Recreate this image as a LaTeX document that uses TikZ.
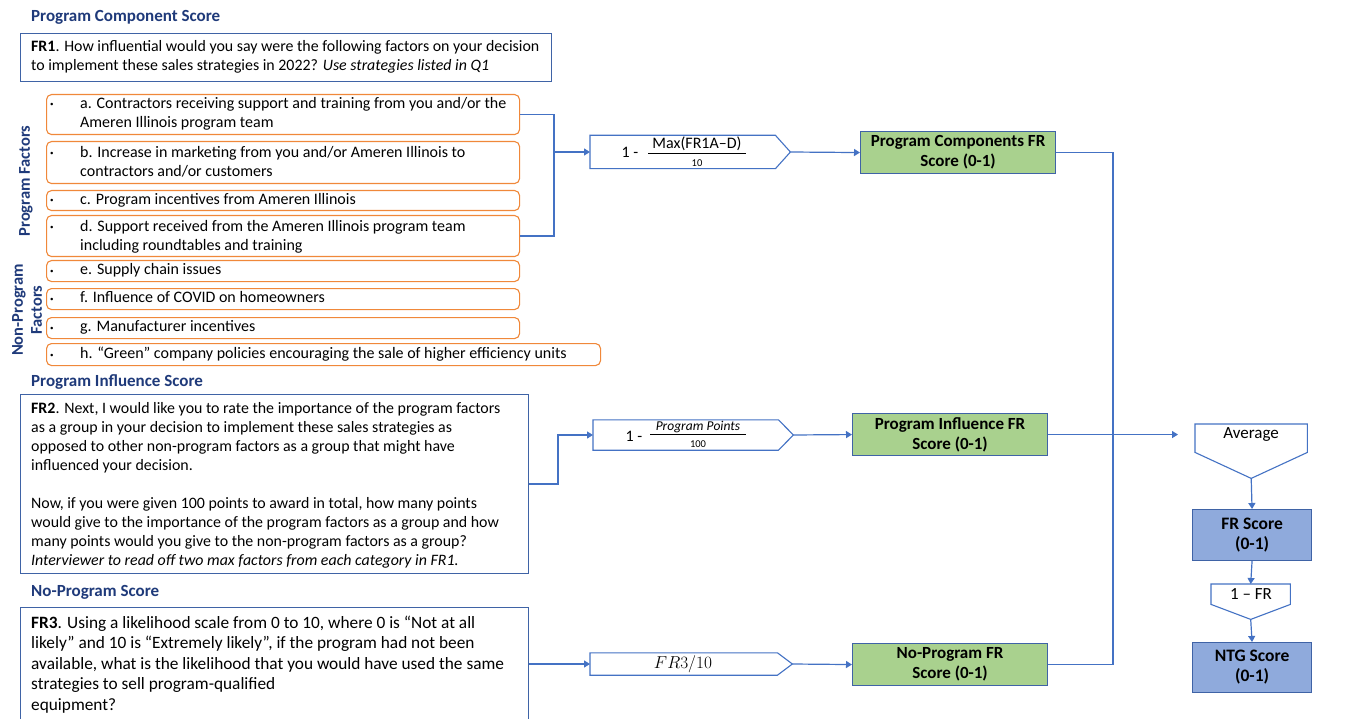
\documentclass[tikz,border=0pt]{standalone}
\usepackage{amsmath}
\usepackage{fontspec}
\setmainfont{Carlito}
\usetikzlibrary{arrows.meta,calc}
\definecolor{lineblue}{HTML}{4472C4}
\definecolor{boxblue}{HTML}{3F63A6}
\definecolor{titleblue}{HTML}{1F3A7A}
\definecolor{oorange}{HTML}{F0883A}
\definecolor{gfill}{HTML}{A9D18E}
\definecolor{bfill}{HTML}{8FAADC}
\tikzset{
  qbox/.style={draw=boxblue, line width=1.1pt, inner sep=0pt, anchor=north west},
  obox/.style={draw=oorange, line width=1.1pt, rounded corners=5pt, inner sep=0pt, anchor=north west},
  gbox/.style={draw=boxblue, fill=gfill, line width=1.1pt, inner sep=0pt, anchor=north west, align=center, font=\fontsize{17}{20}\selectfont\bfseries},
  bbox/.style={draw=boxblue, fill=bfill, line width=1.1pt, inner sep=0pt, anchor=north west, align=center, font=\fontsize{17.5}{20}\selectfont\bfseries},
  anchorbox/.style={inner sep=0pt, anchor=north west},
  pent/.style={draw=lineblue, line width=1.1pt, fill=white, line join=miter},
  ttl/.style={anchor=base west, inner sep=0pt, text=titleblue, font=\fontsize{17}{19}\selectfont\bfseries},
  vttl/.style={inner sep=0pt, text=titleblue, rotate=90, align=center, font=\fontsize{16.5}{19}\selectfont\bfseries},
  qtxt/.style={anchor=base west, inner sep=0pt, font=\fontsize{15.9}{19}\selectfont},
  itxt/.style={anchor=base west, inner sep=0pt, font=\fontsize{16}{19}\selectfont},
  ftxt/.style={anchor=base, inner sep=0pt},
  fbar/.style={draw=black, line width=0.7pt},
  conn/.style={draw=lineblue, line width=1.2pt},
  arr/.style={conn, -{Triangle[length=6pt,width=7pt]}},
}
\begin{document}
\begin{tikzpicture}[x=1pt,y=-1pt]
\useasboundingbox[fill=white] (0,0) rectangle (1351,719);

% ---------------- Program Component Score ----------------
\node[ttl] (t1) at (31,21.5) {Program Component Score};
\node[qbox, minimum width=531pt, minimum height=48pt] (fr1) at (20,33) {};
\node[qtxt] (fr1t) at (31,52) {\parbox[t]{600pt}{\textbf{FR1}. How influential would you say were the following factors on your decision\\to implement these sales strategies in 2022? \textit{Use strategies listed in Q1}}};

% orange items
\node[obox, minimum width=473pt, minimum height=40pt] (ia) at (46,94) {};
\node[obox, minimum width=473pt, minimum height=42pt] (ib) at (46,141) {};
\node[obox, minimum width=473pt, minimum height=20pt] (ic) at (46,190) {};
\node[obox, minimum width=473pt, minimum height=41pt] (id) at (46,215) {};
\node[obox, minimum width=473pt, minimum height=21pt] (ie) at (46,260) {};
\node[obox, minimum width=473pt, minimum height=21pt] (iff) at (46,288) {};
\node[obox, minimum width=473pt, minimum height=21pt] (ig) at (46,317) {};
\node[obox, minimum width=554pt, minimum height=22pt] (ih) at (46,343) {};

\node[itxt] (ba) at (50,107) {\scriptsize\textbullet};
\node[itxt] (bb) at (50,156) {\scriptsize\textbullet};
\node[itxt] (bc) at (50,203) {\scriptsize\textbullet};
\node[itxt] (bd) at (50,230) {\scriptsize\textbullet};
\node[itxt] (be) at (50,273) {\scriptsize\textbullet};
\node[itxt] (bf) at (50,301) {\scriptsize\textbullet};
\node[itxt] (bg) at (50,330) {\scriptsize\textbullet};
\node[itxt] (bh) at (50,357) {\scriptsize\textbullet};

\node[itxt] (ta) at (80,108.5) {\parbox[t]{520pt}{a. Contractors receiving support and training from you and/or the\\Ameren Illinois program team}};
\node[itxt] (tb) at (80,157.5) {\parbox[t]{520pt}{b. Increase in marketing from you and/or Ameren Illinois to\\contractors and/or customers}};
\node[itxt] (tc) at (80,204.5) {c. Program incentives from Ameren Illinois};
\node[itxt] (td) at (80,231.5) {\parbox[t]{520pt}{d. Support received from the Ameren Illinois program team\\including roundtables and training}};
\node[itxt] (te) at (80,274.5) {e. Supply chain issues};
\node[itxt] (tf) at (80,302.5) {f. Influence of COVID on homeowners};
\node[itxt] (tg) at (80,331.5) {g. Manufacturer incentives};
\node[itxt] (th) at (80,358.5) {h. \textquotedblleft Green\textquotedblright{} company policies encouraging the sale of higher efficiency units};

\node[vttl] (vpf) at (26,181) {Program Factors};
\node[vttl] (vnp) at (27,310) {Non-Program\\Factors};

% bracket and formula 1
\coordinate (brx) at (554,0);
\node[anchorbox, minimum width=200pt, minimum height=33pt, anchor=west] (p1) at (590,152) {};
\draw[pent] (p1.north west) -- ([xshift=-15pt]p1.north east) -- (p1.east) -- ([xshift=-15pt]p1.south east) -- (p1.south west) -- cycle;
\node[ftxt, font=\fontsize{16}{18}\selectfont] (p1a) at (630,157.5) {1 -};
\node[ftxt, font=\fontsize{16}{18}\selectfont] (p1n) at (697,149) {Max(FR1A\textendash D)};
\draw[fbar] (648,153) -- (746,153);
\node[ftxt, font=\fontsize{10.5}{12}\selectfont] (p1d) at (697,166.5) {10};
\draw[conn] (ia.east) -- (ia.east -| brx) -- (id.east -| brx) -- (id.east);
\draw[arr] (p1.west -| brx) -- (p1.west);

\node[gbox, minimum width=195pt, minimum height=42pt] (g1) at (860,131) {Program Components FR\\Score (0-1)};
\draw[arr] (p1.east) -- (g1.west);

% ---------------- Program Influence Score ----------------
\node[ttl] (t2) at (31,386.5) {Program Influence Score};
\node[qbox, minimum width=508pt, minimum height=179pt] (fr2) at (20,394) {};
\node[qtxt] (fr2t) at (31,413) {\parbox[t]{600pt}{\textbf{FR2}. Next, I would like you to rate the importance of the program factors\\as a group in your decision to implement these sales strategies as\\opposed to other non-program factors as a group that might have\\influenced your decision.\\[19pt]Now, if you were given 100 points to award in total, how many points\\would give to the importance of the program factors as a group and how\\many points would you give to the non-program factors as a group?\\\textit{Interviewer to read off two max factors from each category in FR1.}}};

\coordinate (bx2) at (558,0);
\node[anchorbox, minimum width=200pt, minimum height=30pt, anchor=west] (p2) at (593,435) {};
\draw[pent] (p2.north west) -- ([xshift=-15pt]p2.north east) -- (p2.east) -- ([xshift=-15pt]p2.south east) -- (p2.south west) -- cycle;
\node[ftxt, font=\fontsize{16}{18}\selectfont] (p2a) at (634,441) {1 -};
\node[ftxt, font=\fontsize{13.5}{15}\selectfont] (p2n) at (698,430) {$\mathit{Program\ Points}$};
\draw[fbar] (650,434) -- (746,434);
\node[ftxt, font=\fontsize{10.5}{12}\selectfont] (p2d) at (698,447.5) {100};
\draw[arr] (fr2.east) -- (fr2.east -| bx2) -- (p2.west -| bx2) -- (p2.west);

\node[gbox, minimum width=195pt, minimum height=42pt] (g2) at (852,413) {Program Influence FR\\Score (0-1)};
\draw[arr] (p2.east) -- (g2.west);

% ---------------- No-Program Score ----------------
\node[ttl] (t3) at (31,596.5) {No-Program Score};
\node[qbox, minimum width=508pt, minimum height=130pt] (fr3) at (20,607) {};
\node[qtxt, font=\fontsize{17.3}{20.5}\selectfont] (fr3t) at (31,628) {\parbox[t]{600pt}{\textbf{FR3}. Using a likelihood scale from 0 to 10, where 0 is \textquotedblleft Not at all\\likely\textquotedblright{} and 10 is \textquotedblleft Extremely likely\textquotedblright, if the program had not been\\available, what is the likelihood that you would have used the same\\strategies to sell program-qualified\\equipment?}};

\node[anchorbox, minimum width=202pt, minimum height=22pt, anchor=west] (p3) at (590,664) {};
\draw[pent] (p3.north west) -- ([xshift=-15pt]p3.north east) -- (p3.east) -- ([xshift=-15pt]p3.south east) -- (p3.south west) -- cycle;
\node[inner sep=0pt] (p3t) at (683,664) {\fontsize{18}{20}\selectfont $FR3/10$};
\draw[arr] (fr3.east |- p3.west) -- (p3.west);

\node[gbox, minimum width=195pt, minimum height=42pt] (g3) at (852,643) {No-Program FR\\Score (0-1)};
\draw[arr] (p3.east) -- (g3.west);

% ---------------- combination ----------------
\coordinate (jx) at (1113,0);
\draw[conn] (g1.east) -- (g1.east -| jx) -- (g3.east -| jx) -- (g3.east);

\node[anchorbox, minimum width=112pt, minimum height=54pt] (avg) at (1195,424) {};
\draw[pent] (avg.north west) -- (avg.north east) -- ([yshift=26pt]avg.south east) -- (avg.south) -- ([yshift=26pt]avg.south west) -- cycle;
\node[inner sep=0pt, font=\fontsize{17}{19}\selectfont] (avgt) at (1251,435) {Average};
\draw[arr, shorten >=17pt] (g2.east) -- (g2.east -| avg.west);

\node[bbox, minimum width=119pt, minimum height=51pt] (frs) at (1192,509) {FR Score\\(0-1)};
\draw[arr] (avg.south) -- (frs.north);

\node[anchorbox, minimum width=79pt, minimum height=35pt] (omf) at (1211,584) {};
\draw[pent] (omf.north west) -- (omf.north east) -- ([yshift=15pt]omf.south east) -- (omf.south) -- ([yshift=15pt]omf.south west) -- cycle;
\node[inner sep=0pt, font=\fontsize{17}{19}\selectfont] (omft) at (1251,594) {1 \textendash{} FR};
\draw[arr] (frs.south) -- (omf.north);

\node[bbox, minimum width=119pt, minimum height=50pt] (ntg) at (1192,642) {NTG Score\\(0-1)};
\draw[arr] (omf.south) -- (ntg.north);
\end{tikzpicture}
\end{document}
